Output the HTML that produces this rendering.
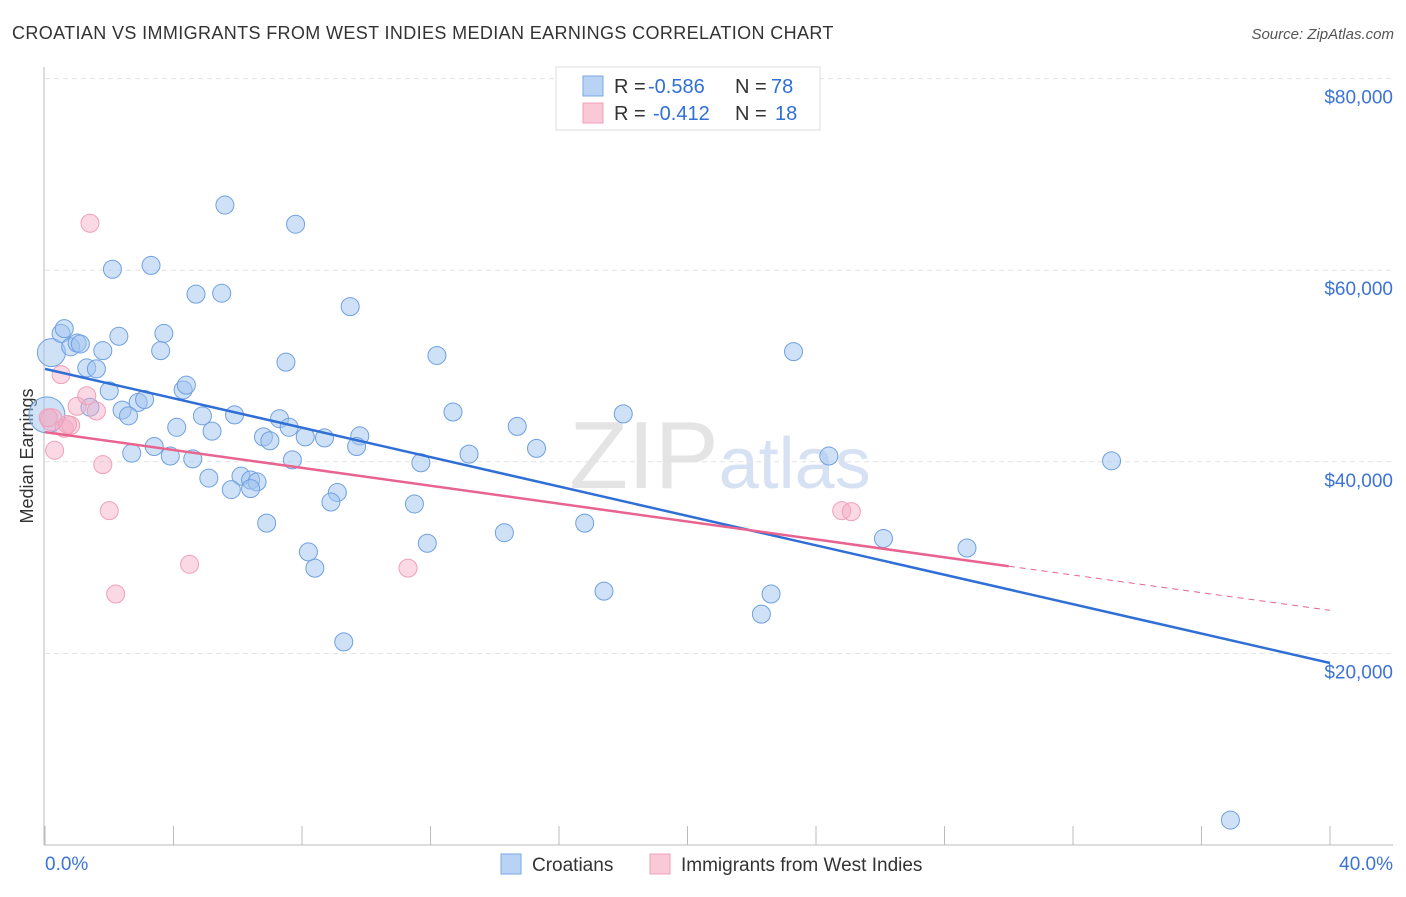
<!DOCTYPE html>
<html><head><meta charset="utf-8">
<style>
body{margin:0;background:#fff;font-family:"Liberation Sans",sans-serif;}
svg text{font-family:"Liberation Sans",sans-serif;}
</style></head>
<body>
<svg id="chart" width="1406" height="892" xmlns="http://www.w3.org/2000/svg">
<text x="12" y="39" font-size="18" fill="#333" letter-spacing="0.37">CROATIAN VS IMMIGRANTS FROM WEST INDIES MEDIAN EARNINGS CORRELATION CHART</text>
<text x="1394" y="39" font-size="15" fill="#555" text-anchor="end" font-style="italic">Source: ZipAtlas.com</text>
<text x="720" y="488" font-size="96" text-anchor="middle" fill="#e4e4e4" font-family="Liberation Serif">ZIP<tspan fill="#d6e2f3" font-family="Liberation Sans" font-size="72">atlas</tspan></text>
<text transform="translate(33,456) rotate(-90)" font-size="18" fill="#333" text-anchor="middle">Median Earnings</text>
<g id="grid"></g>
<g id="marks"></g>
<g>
<rect x="556" y="67" width="264" height="63" fill="#fff" stroke="#ddd"/>
<rect x="583" y="76" width="20" height="20" fill="#b9d3f5" stroke="#7aa7e3"/>
<rect x="583" y="103" width="20" height="20" fill="#f9c9d7" stroke="#f0a0b8"/>
<text x="614" y="93" font-size="20" fill="#333">R =</text>
<text x="648" y="93" font-size="20" fill="#2f6fd6">-0.586</text>
<text x="735" y="93" font-size="20" fill="#333">N =</text>
<text x="771" y="93" font-size="20" fill="#2f6fd6">78</text>
<text x="614" y="120" font-size="20" fill="#333">R =</text>
<text x="653" y="120" font-size="20" fill="#2f6fd6">-0.412</text>
<text x="735" y="120" font-size="20" fill="#333">N =</text>
<text x="775" y="120" font-size="20" fill="#2f6fd6">18</text>
</g>
<g>
<rect x="501" y="854" width="20" height="20" fill="#b9d3f5" stroke="#7aa7e3"/>
<text x="532" y="871" font-size="19" fill="#333">Croatians</text>
<rect x="650" y="854" width="20" height="20" fill="#f9c9d7" stroke="#f0a0b8"/>
<text x="681" y="871" font-size="19" fill="#333">Immigrants from West Indies</text>
</g>
</svg>
<script>
const xTickLabels=["0.0%","40.0%"];
const yTicks=[20000,40000,60000,80000];
const blueX=[0.2,0.5,0.6,0.8,1.0,1.1,1.8,2.3,3.7,3.6,1.3,1.6,2.0,2.1,3.3,4.7,5.5,5.6,7.8,9.5,7.5,12.2,23.3,4.3,4.4,2.9,3.1,2.4,2.6,1.4,0.06,4.9,5.9,4.1,5.2,7.3,7.6,6.8,7.0,8.1,8.7,9.8,9.7,2.7,3.4,3.9,4.6,5.1,6.1,6.4,6.6,5.8,6.4,7.7,9.1,8.9,6.9,8.2,8.4,9.3,12.7,14.7,15.3,18.0,13.2,11.7,11.5,11.9,14.3,16.8,17.4,22.6,22.3,24.4,26.1,28.7,33.2,36.9];
const blueY=[51.4,53.4,53.9,52.0,52.4,52.3,51.6,53.1,53.4,51.6,49.8,49.7,47.4,60.1,60.5,57.5,57.6,66.8,64.8,56.2,50.4,51.1,51.5,47.5,48.0,46.2,46.5,45.4,44.8,45.7,44.9,44.8,44.9,43.6,43.2,44.5,43.6,42.6,42.2,42.6,42.5,42.7,41.6,40.9,41.6,40.6,40.3,38.3,38.5,38.1,37.9,37.1,37.2,40.2,36.8,35.8,33.6,30.6,28.9,21.2,45.2,43.7,41.4,45.0,40.8,39.9,35.6,31.5,32.6,33.6,26.5,26.2,24.1,40.6,32.0,31.0,40.1,2.6];
const pinkX=[1.4,0.5,0.2,0.6,0.8,1.0,1.3,1.6,0.3,1.8,2.0,2.2,4.5,11.3,24.8,25.1,0.7,0.1];
const pinkY=[64.9,49.1,44.4,43.5,43.8,45.8,46.9,45.3,41.2,39.7,34.9,26.2,29.3,28.9,34.9,34.8,43.9,44.6];
const blueFit=[[0,49.7],[40,19.0]];
const pinkFit=[[0,43.1],[30.0,29.1]];
const pinkFitExt=[[30.0,29.1],[40,24.5]];
const NS="http://www.w3.org/2000/svg";
const X=v=>45+v*32.125;
const Y=v=>845-v*9.58;
function mk(tag,attrs,parent){const e=document.createElementNS(NS,tag);for(const k in attrs)e.setAttribute(k,attrs[k]);parent.appendChild(e);return e;}
const grid=document.getElementById('grid'),marks=document.getElementById('marks');
yTicks.forEach(t=>{
 const l=mk('line',{x1:45,x2:1393,y1:Y(t/1000),y2:Y(t/1000),stroke:'#e2e2e2','stroke-dasharray':'5,4'},grid);
 
 
 const tx=mk('text',{x:1393,y:Y(t/1000)+25,'font-size':19,fill:'#3d73d6','text-anchor':'end'},grid);
 tx.textContent='$'+t.toLocaleString('en-US');
 
 
});
const ya=mk('line',{x1:44,x2:44,y1:67,y2:845,stroke:'#bbb'},grid);


const xa=mk('line',{x1:44,x2:1393,y1:845,y2:845,stroke:'#bbb'},grid);


for(let i=0;i<=10;i++){const t=mk('line',{x1:X(i*4),x2:X(i*4),y1:826,y2:845,stroke:'#bbb'},grid);
 
 }
xTickLabels.forEach((s,i)=>{const t=mk('text',{x:i?1393:45,y:870,'font-size':19,fill:'#3d73d6','text-anchor':i?'end':'start'},grid);t.textContent=s;
 
 });
blueX.forEach((x,i)=>{const r=(i===0||i===30)?(i===30?18:14):9;
 const c=mk('circle',{cx:X(x),cy:Y(blueY[i]),r:r,fill:'rgba(160,196,240,0.5)',stroke:'#6fa0e0','stroke-width':1},marks);
 
 });
pinkX.forEach((x,i)=>{const r=i===2?11:9;
 const c=mk('circle',{cx:X(x),cy:Y(pinkY[i]),r:r,fill:'rgba(245,170,195,0.45)',stroke:'#f0a0b8','stroke-width':1},marks);
 
 });
const bl=mk('line',{x1:X(blueFit[0][0]),y1:Y(blueFit[0][1]),x2:X(blueFit[1][0]),y2:Y(blueFit[1][1]),stroke:'#2f6fd6','stroke-width':2.5},marks);


const pl=mk('line',{x1:X(pinkFit[0][0]),y1:Y(pinkFit[0][1]),x2:X(pinkFit[1][0]),y2:Y(pinkFit[1][1]),stroke:'#e8648f','stroke-width':2.5},marks);


const pd=mk('line',{x1:X(pinkFitExt[0][0]),y1:Y(pinkFitExt[0][1]),x2:X(pinkFitExt[1][0]),y2:Y(pinkFitExt[1][1]),stroke:'#e8648f','stroke-width':1,'stroke-dasharray':'6,5'},marks);


</script>
</body></html>
